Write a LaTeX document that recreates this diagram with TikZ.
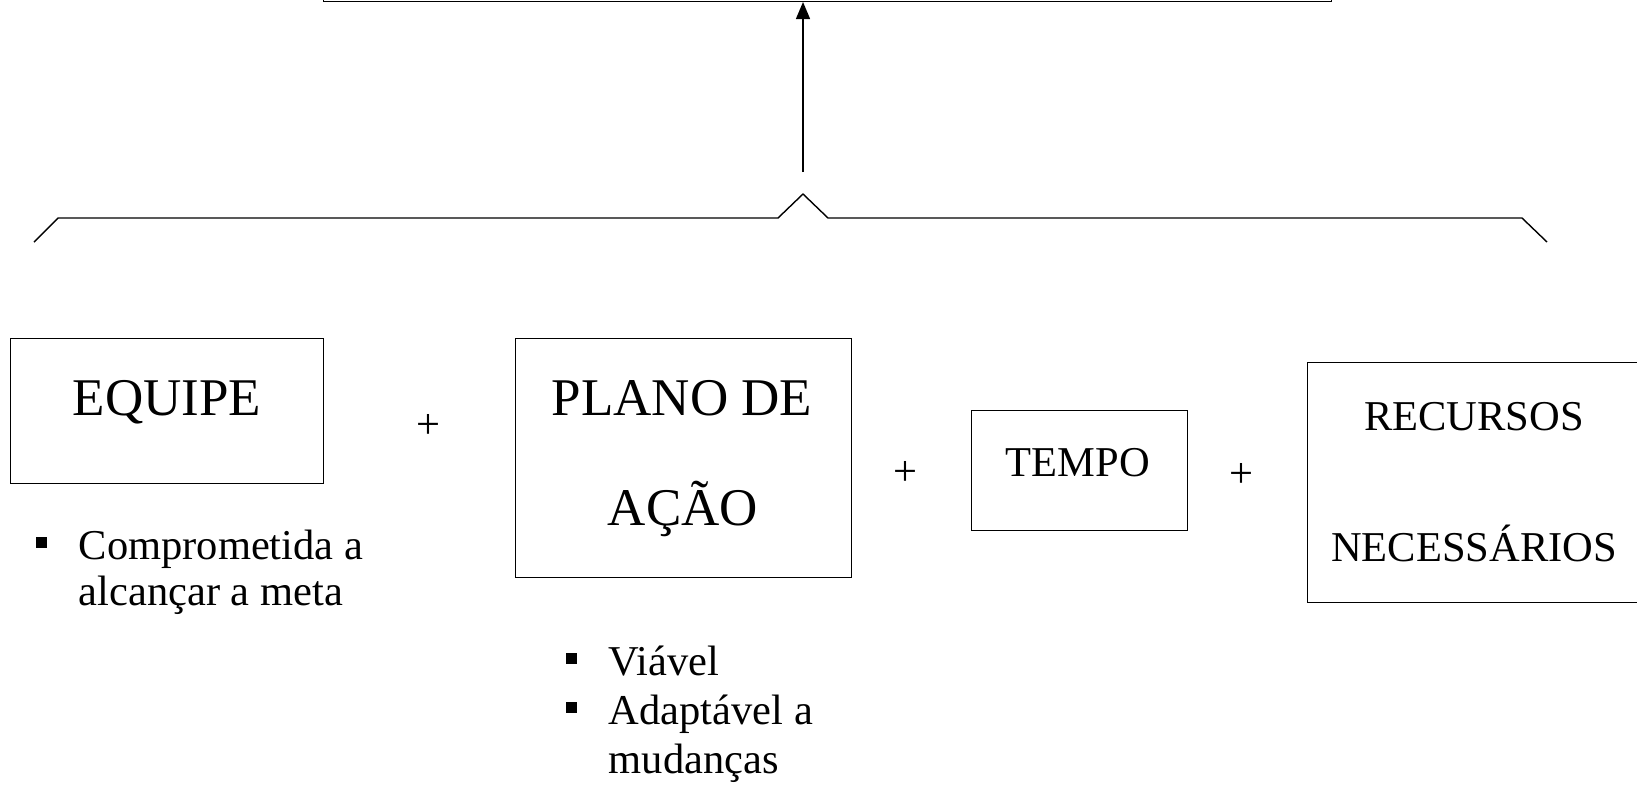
\documentclass[tikz,border=0pt]{standalone}
\usepackage{fontspec}
\setmainfont{Liberation Serif}
\usetikzlibrary{arrows.meta}
\tikzset{
  box/.style={draw, inner sep=0pt},
  big/.style={font=\fontsize{26.5}{30}\selectfont, inner sep=0pt},
  small/.style={font=\fontsize{21.25}{25}\selectfont, inner sep=0pt},
}
\newcommand{\blt}{\llap{\rule[5.3pt]{5.5pt}{5.5pt}\hspace{16pt}}}
\begin{document}
\begin{tikzpicture}[x=0.5pt, y=-0.5pt, line width=0.7pt]
      \useasboundingbox (0,0) rectangle (1637,784);
      \node[box, minimum width=504pt, minimum height=30pt, anchor=south west] (meta) at (323,2) {};
      \node[box, minimum width=156.5pt, minimum height=72.5pt, anchor=north west] (equipe) at (10,338) {};
      \node[box, minimum width=168pt, minimum height=119.5pt, anchor=north west] (plano) at (515,338) {};
      \node[box, minimum width=108pt, minimum height=60pt, anchor=north west] (tempo) at (971,410) {};
      \node[box, minimum width=176.5pt, minimum height=120pt, anchor=north west] (recursos) at (1307,362) {};
      \draw
        (167,415) node[big, anchor=base] (tequipe) {EQUIPE}
        (682,415) node[big, anchor=base] (tplano) {PLANO DE}
        (683,525) node[big, anchor=base] (tacao) {AÇÃO}
        (1078,476) node[small, anchor=base] (ttempo) {TEMPO}
        (1474,430) node[small, anchor=base] (trecursos) {RECURSOS}
        (1474,561) node[small, anchor=base] (tnecessarios) {NECESSÁRIOS};
      \draw
        (428,426) node[small] (plus1) {+}
        (905,473) node[small] (plus2) {+}
        (1241,475) node[small] (plus3) {+};
      \draw
        (78,559) node[small, anchor=base west] (equipe1) {\blt Comprometida a}
        (78,605) node[small, anchor=base west] (equipe2) {alcançar a meta}
        (608,675) node[small, anchor=base west] (plano1) {\blt Viável}
        (608,724) node[small, anchor=base west] (plano2) {\blt Adaptável a}
        (608,773) node[small, anchor=base west] (plano3) {mudanças};
      \draw (34,242) -- (58,218) -- (778,218) -- (803,194) -- (828,218) -- (1522,218) -- (1547,242);
      \coordinate (tail) at (803,172);
      \draw[-{Triangle[length=8.5pt, width=7pt]}] (tail) -- (tail |- meta.south);
    \end{tikzpicture}
\end{document}
